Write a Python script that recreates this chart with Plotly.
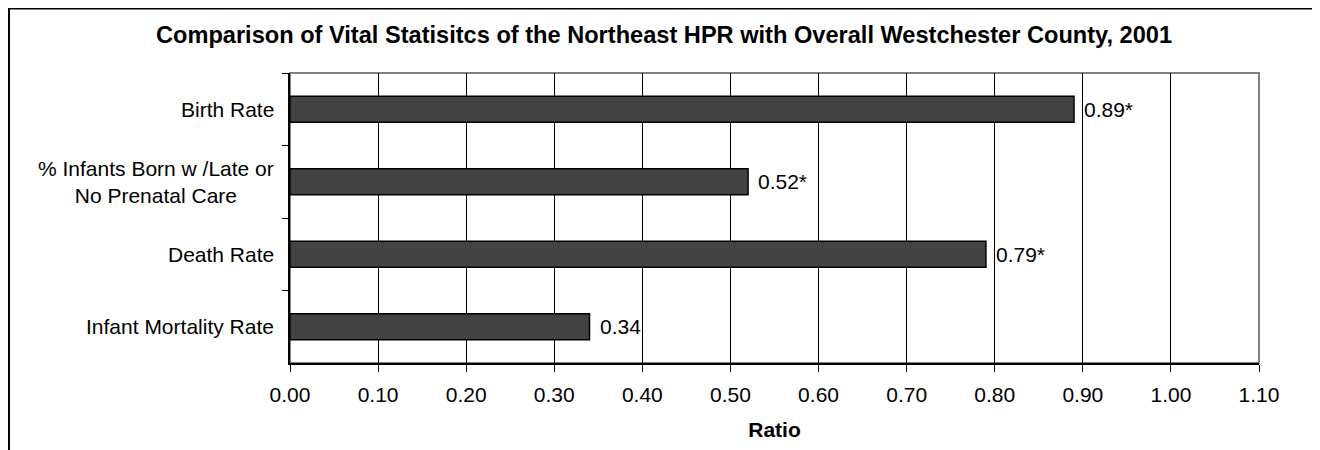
import plotly.graph_objects as go

categories = ["Birth Rate", "% Infants Born w /Late or<br>No Prenatal Care", "Death Rate", "Infant Mortality Rate"]
values = [0.89, 0.52, 0.79, 0.34]
value_labels = ["0.89*", "0.52*", "0.79*", "0.34"]
x_ticks = [0.0, 0.1, 0.2, 0.3, 0.4, 0.5, 0.6, 0.7, 0.8, 0.9, 1.0, 1.1]
title_text = "Comparison of Vital Statisitcs of the Northeast HPR with Overall Westchester County, 2001"
x_title = "Ratio"

FONT = "Liberation Sans, Arial, sans-serif"
OFF = 8  # page body margin
W, H = 1320 - OFF, 450 - OFF
L, R, T, B = 282, 61, 65, 87
PW, PH = W - L - R, H - T - B

def px_x(p):
    # page pixel -> paper x
    return (p - OFF - L) / PW

def px_y(p):
    # page pixel -> paper y
    return (H - B - (p - OFF)) / PH

fig = go.Figure()
fig.add_trace(go.Bar(
    x=values, y=categories, orientation="h",
    width=0.36,
    marker=dict(color="#434343", line=dict(color="#000000", width=1.5)),
    hoverinfo="x+y", showlegend=False,
))

annotations = []
for c, v, lab in zip(categories, values, value_labels):
    annotations.append(dict(x=v, y=c, xref="x", yref="y", text=lab, showarrow=False,
                            xanchor="left", yanchor="middle", xshift=8,
                            font=dict(family=FONT, size=21, color="#000000")))
for c in categories:
    annotations.append(dict(x=0, y=c, xref="paper", yref="y", text=c, showarrow=False,
                            xanchor="right", yanchor="middle", xshift=-14, align="center",
                            font=dict(family=FONT, size=21, color="#000000")))

shapes = [
    dict(type="rect", xref="paper", yref="paper", x0=0, x1=1, y0=0, y1=1,
         line=dict(color="#808080", width=2), layer="below"),
    dict(type="line", xref="paper", yref="paper", x0=px_x(9), x1=px_x(9),
         y0=px_y(8.75), y1=px_y(470), line=dict(color="#000000", width=2)),
    dict(type="line", xref="paper", yref="paper", x0=px_x(8), x1=px_x(1340),
         y0=px_y(8.75), y1=px_y(8.75), line=dict(color="#000000", width=1.5)),
]

fig.update_layout(
    width=W, height=H,
    margin=dict(l=L, r=R, t=T, b=B, autoexpand=False),
    paper_bgcolor="#ffffff", plot_bgcolor="#ffffff",
    font=dict(family=FONT, color="#000000"),
    title=dict(text="<b>" + title_text + "</b>", xref="container", yref="container",
               x=(664 - OFF) / W, xanchor="center",
               y=1 - (35 - OFF) / H, yanchor="middle",
               font=dict(family=FONT, size=23.6, color="#000000")),
    xaxis=dict(range=[0, 1.1], tickvals=x_ticks, tickformat=".2f",
               showgrid=True, gridcolor="#000000", gridwidth=1,
               showline=True, linecolor="#000000", linewidth=1.5,
               ticks="outside", ticklen=7, tickcolor="#000000", tickwidth=1,
               ticklabelstandoff=5,
               tickfont=dict(family=FONT, size=21, color="#000000"),
               title=dict(text="<b>" + x_title + "</b>", standoff=17,
                          font=dict(family=FONT, size=21, color="#000000")),
               zeroline=False, fixedrange=True),
    yaxis=dict(categoryorder="array", categoryarray=categories, autorange="reversed",
               showgrid=False, showline=True, linecolor="#000000", linewidth=1.5,
               ticks="outside", tickson="boundaries", ticklen=6, tickcolor="#000000",
               showticklabels=False, zeroline=False, fixedrange=True),
    annotations=annotations,
    shapes=shapes,
    bargap=0.64,
)

fig.write_html("out.html")
